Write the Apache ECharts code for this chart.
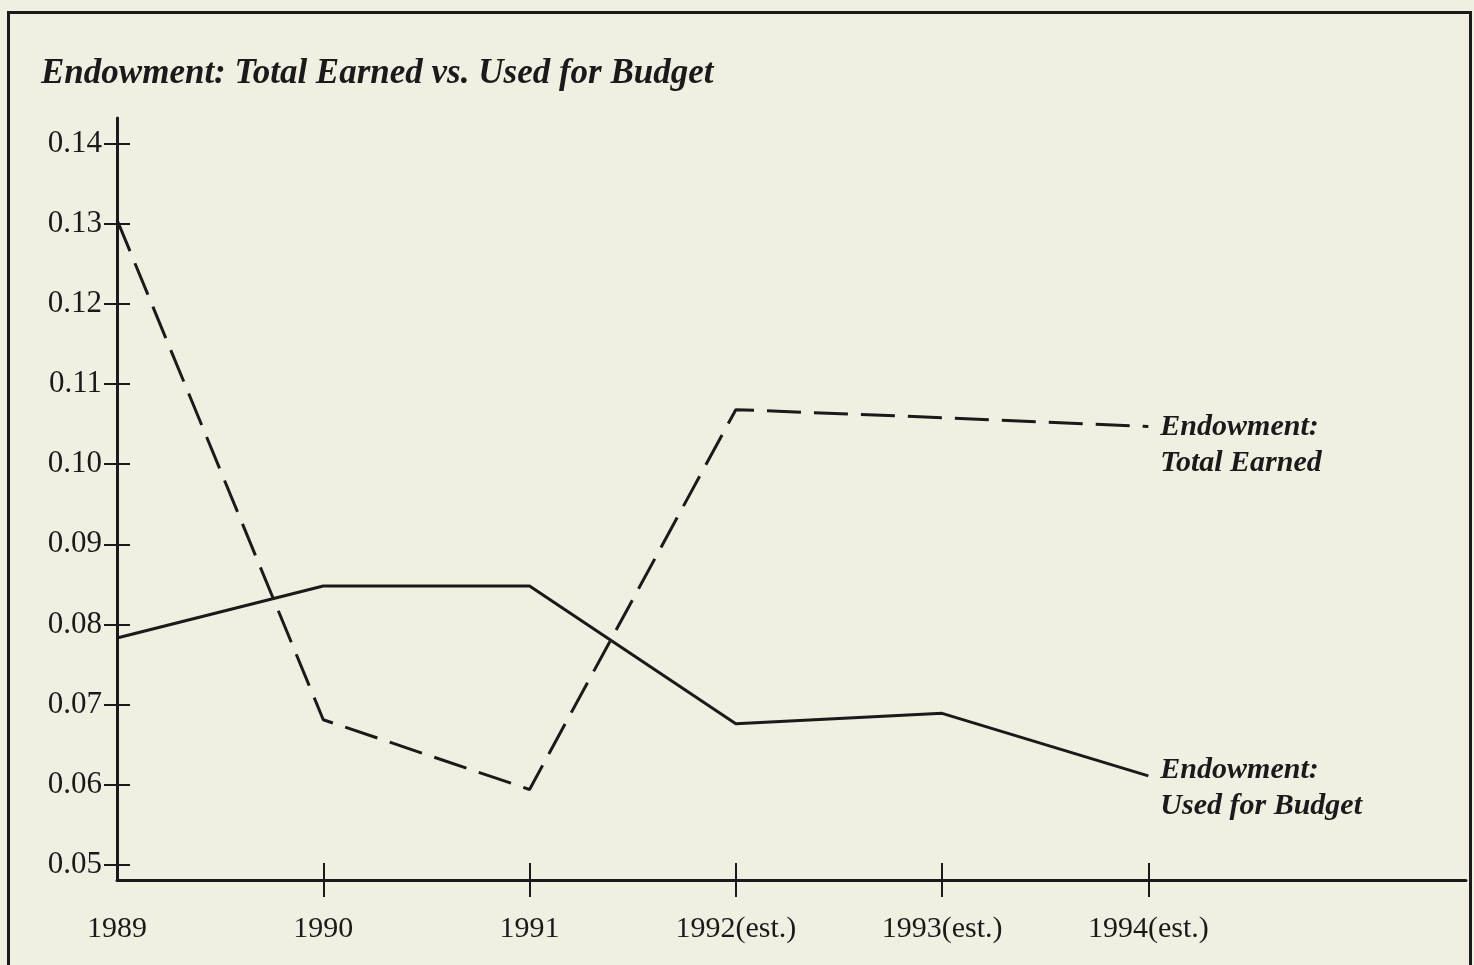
<!DOCTYPE html>
<html>
<head>
<meta charset="utf-8">
<script src="https://cdn.jsdelivr.net/npm/echarts@6/dist/echarts.min.js"></script>
<style>
  html, body { margin: 0; padding: 0; background: #f1eee2; }
  #frame { position: absolute; left: 7px; top: 11px; width: 1465px; height: 970px; border: 3px solid #1a1a1a; box-sizing: border-box; }
  #chart { position: absolute; left: 0; top: 0; width: 1474px; height: 965px; }
</style>
</head>
<body>
<div id="frame"></div>
<div id="chart"></div>
<script>
const years = [1989, 1990, 1991, 1992, 1993, 1994];
const yearLabels = ['1989', '1990', '1991', '1992(est.)', '1993(est.)', '1994(est.)'];
const totalEarned = [0.1305, 0.0681, 0.0594, 0.1068, 0.1058, 0.1047];
const usedForBudget = [0.0783, 0.0848, 0.0848, 0.0676, 0.0689, 0.0611];
const yTicks = [0.05, 0.06, 0.07, 0.08, 0.09, 0.10, 0.11, 0.12, 0.13, 0.14];
const titleText = 'Endowment: Total Earned vs. Used for Budget';
const seriesNames = ['Endowment:\nTotal Earned', 'Endowment:\nUsed for Budget'];

const ink = '#1a1a1a';
const serif = '"Liberation Serif", "DejaVu Serif", serif';
const chart = echarts.init(document.getElementById('chart'), null, { renderer: 'canvas' });

const xBase = { type: 'value', min: 1989, max: 1995.54, gridIndex: 0 };
const yBase = { type: 'value', min: 0.0481, max: 0.1432, gridIndex: 0 };

chart.setOption({
  backgroundColor: 'transparent',
  animation: false,
  title: {
    text: titleText,
    left: 36, top: 51,
    textStyle: { fontFamily: serif, fontStyle: 'italic', fontWeight: 'bold', fontSize: 35, color: ink }
  },
  grid: { left: 117, right: 8, top: 118, bottom: 85 },
  xAxis: [
    Object.assign({}, xBase, {
      axisLine: { show: true, lineStyle: { color: ink, width: 3 } },
      axisTick: { show: true, customValues: years.slice(1), length: 17, lineStyle: { color: ink, width: 2 } },
      axisLabel: {
        customValues: years, margin: 34,
        formatter: v => yearLabels[years.indexOf(Math.round(v))] || '',
        fontFamily: serif, fontSize: 30, color: ink
      },
      splitLine: { show: false }
    }),
    Object.assign({}, xBase, {
      position: 'bottom',
      axisLine: { show: false },
      axisTick: { show: true, inside: true, customValues: years.slice(1), length: 17, lineStyle: { color: ink, width: 2 } },
      axisLabel: { show: false },
      splitLine: { show: false }
    })
  ],
  yAxis: [
    Object.assign({}, yBase, {
      axisLine: { show: true, lineStyle: { color: ink, width: 3 } },
      axisTick: { show: true, customValues: yTicks, length: 13, lineStyle: { color: ink, width: 2 } },
      axisLabel: {
        customValues: yTicks, margin: 15,
        formatter: v => v.toFixed(2),
        fontFamily: serif, fontSize: 31, color: ink
      },
      splitLine: { show: false }
    }),
    Object.assign({}, yBase, {
      position: 'left',
      axisLine: { show: false },
      axisTick: { show: true, inside: true, customValues: yTicks, length: 13, lineStyle: { color: ink, width: 2 } },
      axisLabel: { show: false },
      splitLine: { show: false }
    })
  ],
  series: [
    {
      name: seriesNames[0], type: 'line', xAxisIndex: 0, yAxisIndex: 0,
      data: years.map((y, i) => [y, totalEarned[i]]),
      symbol: 'none',
      lineStyle: { color: ink, width: 3, type: [34, 13] },
      endLabel: {
        show: true, formatter: seriesNames[0], distance: 12,
        align: 'left', verticalAlign: 'top', offset: [0, -17],
        fontFamily: serif, fontStyle: 'italic', fontWeight: 'bold', fontSize: 30, lineHeight: 36, color: ink
      }
    },
    {
      name: seriesNames[1], type: 'line', xAxisIndex: 0, yAxisIndex: 0,
      data: years.map((y, i) => [y, usedForBudget[i]]),
      symbol: 'none',
      lineStyle: { color: ink, width: 3 },
      endLabel: {
        show: true, formatter: seriesNames[1], distance: 12,
        align: 'left', verticalAlign: 'top', offset: [0, -24],
        fontFamily: serif, fontStyle: 'italic', fontWeight: 'bold', fontSize: 30, lineHeight: 36, color: ink
      }
    }
  ]
});
</script>
</body>
</html>
